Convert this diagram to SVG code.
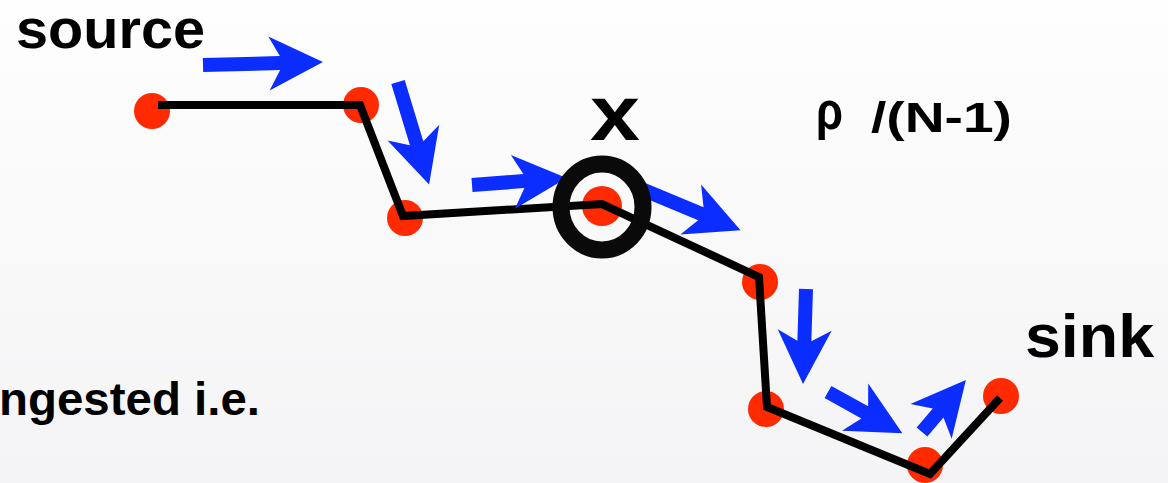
<svg xmlns="http://www.w3.org/2000/svg" width="1168" height="483" viewBox="0 0 1168 483">
  <defs>
    <linearGradient id="bg" x1="0" y1="0" x2="0" y2="1">
      <stop offset="0" stop-color="#fefefe"/>
      <stop offset="1" stop-color="#f4f4f6"/>
    </linearGradient>
    <style>
      .node { fill: #ff2a00; }
      .path { fill: none; stroke: #000; stroke-width: 8; stroke-linejoin: miter; }
      .flow { fill: #0b2dff; }
      .label { font-family: "Liberation Sans", Arial, sans-serif; font-weight: bold; fill: #000; }
    </style>
  </defs>

  <rect width="1168" height="483" fill="url(#bg)"/>

  <!-- nodes along the route -->
  <g id="node-source"><circle class="node" cx="152" cy="111" r="18"/></g>
  <g id="node-2"><circle class="node" cx="361" cy="105" r="18"/></g>
  <g id="node-3"><circle class="node" cx="405" cy="218" r="18"/></g>
  <g id="node-x-dot"><circle class="node" cx="602" cy="206" r="20"/></g>
  <g id="node-5"><circle class="node" cx="760" cy="282" r="18"/></g>
  <g id="node-6"><circle class="node" cx="766" cy="409" r="18"/></g>
  <g id="node-7"><circle class="node" cx="925" cy="465" r="18"/></g>
  <g id="node-sink"><circle class="node" cx="1001" cy="396" r="18"/></g>

  <!-- connectors: route polyline and flow arrows -->
  <g id="connectors">
    <polyline class="path" points="158,105 360,105 403,216 602,204 759,277 767,407 930,474 1000,398"/>
    <!-- arrow: tail at origin, pointing +x, shaft then notched head -->
    <polygon class="flow" transform="translate(203,65) rotate(-1.4)" points="0,-7 77,-7 66,-27 120,0 66,27 77,7 0,7"/>
    <polygon class="flow" transform="translate(398,82) rotate(73.1)" points="0,-7 64,-7 53,-27 107,0 53,27 64,7 0,7"/>
    <polygon class="flow" transform="translate(472,185) rotate(-4.3)" points="0,-7 52,-7 41,-27 95,0 41,27 52,7 0,7"/>
    <polygon class="flow" transform="translate(639,188) rotate(22.6)" points="0,-7 67,-7 56,-27 110,0 56,27 67,7 0,7"/>
    <polygon class="flow" transform="translate(806,289) rotate(91.8)" points="0,-7 52,-7 41,-27 95,0 41,27 52,7 0,7"/>
    <polygon class="flow" transform="translate(828,392) rotate(29)" points="0,-7 42,-7 31,-27 85,0 31,27 42,7 0,7"/>
    <polygon class="flow" transform="translate(922,432) rotate(-49.8)" points="0,-7 25,-7 14,-27 68,0 14,27 25,7 0,7"/>
  </g>

  <!-- marker ring around node x -->
  <g id="node-x-ring">
    <ellipse cx="602" cy="207" rx="41" ry="43" fill="none" stroke="#0a0a0a" stroke-width="17"/>
  </g>

  <!-- labels -->
  <g id="labels">
    <text class="label" x="16" y="48" font-size="56" textLength="189" lengthAdjust="spacingAndGlyphs">source</text>
    <text class="label" x="590" y="140" font-size="78" textLength="50" lengthAdjust="spacingAndGlyphs">x</text>
    <text class="label" x="816" y="129" font-size="54" textLength="27" lengthAdjust="spacingAndGlyphs">ρ</text>
    <text class="label" x="871" y="132" font-size="42" textLength="141" lengthAdjust="spacingAndGlyphs">/(N-1)</text>
    <text class="label" x="1025" y="357" font-size="62" textLength="129" lengthAdjust="spacingAndGlyphs">sink</text>
    <text class="label" x="-1" y="415" font-size="46" textLength="261" lengthAdjust="spacingAndGlyphs">ngested i.e.</text>
  </g>
</svg>
